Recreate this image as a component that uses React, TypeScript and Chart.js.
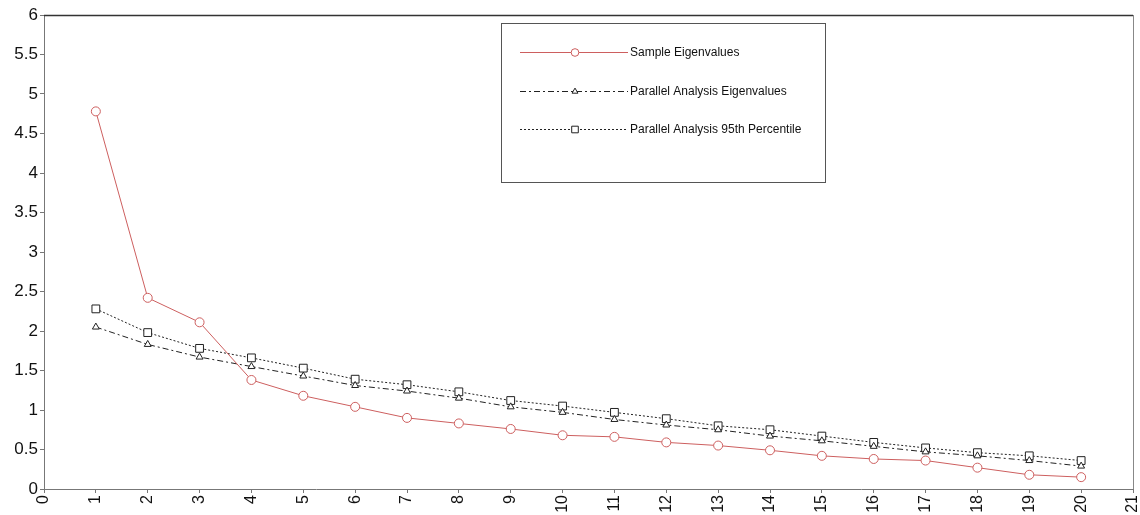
import React, { useEffect, useRef } from "react";
import { Chart, registerables } from "chart.js";

Chart.register(...registerables);

const components = [1, 2, 3, 4, 5, 6, 7, 8, 9, 10, 11, 12, 13, 14, 15, 16, 17, 18, 19, 20];
const sampleEigenvalues = [4.78, 2.42, 2.11, 1.38, 1.18, 1.04, 0.9, 0.83, 0.76, 0.68, 0.66, 0.59, 0.55, 0.49, 0.42, 0.38, 0.36, 0.27, 0.18, 0.15];
const parallelEigenvalues = [2.05, 1.83, 1.67, 1.55, 1.43, 1.31, 1.24, 1.15, 1.04, 0.97, 0.88, 0.81, 0.75, 0.67, 0.61, 0.54, 0.47, 0.42, 0.36, 0.29];
const parallel95th = [2.28, 1.98, 1.78, 1.66, 1.53, 1.39, 1.32, 1.23, 1.12, 1.05, 0.97, 0.89, 0.8, 0.75, 0.67, 0.59, 0.52, 0.46, 0.42, 0.36];
const seriesNames = ["Sample Eigenvalues", "Parallel Analysis Eigenvalues", "Parallel Analysis 95th Percentile"];

const RED = "rgb(205,95,95)";
const DARK = "#222";
const FONT = "'Liberation Sans', Arial, sans-serif";

function drawMarker(ctx: CanvasRenderingContext2D, style: string, r: number, x: number, y: number) {
  ctx.beginPath();
  if (style === "circle") {
    ctx.arc(x, y, r, 0, Math.PI * 2);
  } else if (style === "triangle") {
    const h = r * 1.5;
    ctx.moveTo(x, y - r);
    ctx.lineTo(x + r * 0.866, y + r * 0.5);
    ctx.lineTo(x - r * 0.866, y + r * 0.5);
    ctx.closePath();
    void h;
  } else {
    const s = r * Math.SQRT1_2;
    ctx.rect(x - s, y - s, 2 * s, 2 * s);
  }
  ctx.fill();
  ctx.stroke();
}

const legendPlugin = {
  id: "customLegend",
  afterDraw(chart: any) {
    const ctx = chart.ctx;
    const area = chart.chartArea;
    ctx.save();
    ctx.strokeStyle = "#333";
    ctx.lineWidth = 1.5;
    ctx.beginPath();
    ctx.moveTo(area.left, area.top + 0.5);
    ctx.lineTo(area.right, area.top + 0.5);
    ctx.stroke();
    ctx.strokeStyle = "#888";
    ctx.lineWidth = 1;
    ctx.beginPath();
    ctx.moveTo(area.right + 0.5, area.top);
    ctx.lineTo(area.right + 0.5, area.bottom);
    ctx.stroke();

    const bx = 501, by = 23, bw = 324, bh = 159;
    ctx.fillStyle = "#fff";
    ctx.fillRect(bx, by, bw, bh);
    ctx.strokeStyle = "#555";
    ctx.lineWidth = 1;
    ctx.strokeRect(bx + 0.5, by + 0.5, bw, bh);

    const rows = [52, 91, 129];
    const x0 = 520, x1 = 628, mx = 575;
    chart.data.datasets.forEach((ds: any, i: number) => {
      const y = rows[i];
      ctx.save();
      ctx.strokeStyle = ds.borderColor;
      ctx.lineWidth = 1;
      ctx.setLineDash(ds.borderDash || []);
      ctx.beginPath();
      ctx.moveTo(x0, y + 0.5);
      ctx.lineTo(x1, y + 0.5);
      ctx.stroke();
      ctx.setLineDash([]);
      ctx.fillStyle = "#fff";
      ctx.strokeStyle = ds.pointBorderColor;
      drawMarker(ctx, ds.pointStyle, ds.pointRadius * 0.85, mx, y + 0.5);
      ctx.restore();
      ctx.fillStyle = "#111";
      ctx.font = `12px ${FONT}`;
      ctx.textBaseline = "middle";
      ctx.textAlign = "left";
      ctx.fillText(ds.label, x1 + 2, y + 1);
    });
    ctx.restore();
  },
};

export default function App() {
  const ref = useRef<HTMLCanvasElement | null>(null);

  useEffect(() => {
    if (!ref.current) return;
    const chart = new Chart(ref.current, {
      type: "line",
      data: {
        datasets: [
          {
            label: seriesNames[0],
            data: components.map((c, i) => ({ x: c, y: sampleEigenvalues[i] })),
            borderColor: RED,
            borderWidth: 1,
            pointStyle: "circle",
            pointRadius: 4.5,
            pointBorderColor: RED,
            pointBackgroundColor: "#fff",
            pointBorderWidth: 1,
            tension: 0,
          },
          {
            label: seriesNames[1],
            data: components.map((c, i) => ({ x: c, y: parallelEigenvalues[i] })),
            borderColor: DARK,
            borderWidth: 1,
            borderDash: [6, 3, 2, 3],
            pointStyle: "triangle",
            pointRadius: 4,
            pointBorderColor: DARK,
            pointBackgroundColor: "#fff",
            pointBorderWidth: 1,
            tension: 0,
          },
          {
            label: seriesNames[2],
            data: components.map((c, i) => ({ x: c, y: parallel95th[i] })),
            borderColor: DARK,
            borderWidth: 1,
            borderDash: [2, 2],
            pointStyle: "rect",
            pointRadius: 5.5,
            pointBorderColor: DARK,
            pointBackgroundColor: "#fff",
            pointBorderWidth: 1,
            tension: 0,
          },
        ],
      },
      options: {
        animation: false,
        responsive: false,
        maintainAspectRatio: false,
        layout: { padding: { top: 15, right: 7, left: 0, bottom: 0 } },
        plugins: {
          legend: { display: false },
          tooltip: { enabled: false },
        },
        scales: {
          x: {
            type: "linear",
            min: 0,
            max: 21,
            afterFit: (s: any) => {
              s.height = 26;
              s.paddingLeft = 0;
              s.paddingRight = 0;
            },
            ticks: {
              stepSize: 1,
              autoSkip: false,
              maxRotation: 90,
              minRotation: 90,
              padding: 2,
              color: "#111",
              font: { family: FONT, size: 16 },
            },
            grid: {
              drawOnChartArea: false,
              drawTicks: true,
              tickLength: 4,
              color: "#777",
            },
            border: { display: true, color: "#777", width: 1 },
          },
          y: {
            type: "linear",
            min: 0,
            max: 6,
            afterFit: (s: any) => {
              s.width = 44;
              s.paddingTop = 0;
              s.paddingBottom = 0;
            },
            ticks: {
              stepSize: 0.5,
              padding: 2,
              color: "#111",
              font: { family: FONT, size: 17 },
              callback: (v: any) => String(Math.round(Number(v) * 10) / 10),
            },
            grid: {
              drawOnChartArea: false,
              drawTicks: true,
              tickLength: 4,
              color: "#777",
            },
            border: { display: true, color: "#777", width: 1 },
          },
        },
      },
      plugins: [legendPlugin],
    });
    return () => chart.destroy();
  }, []);

  return (
    <div style={{ position: "fixed", left: 0, top: 0, width: 1140, height: 515, background: "#fff" }}>
      <canvas ref={ref} width={1140} height={515} style={{ width: 1140, height: 515, display: "block" }} />
    </div>
  );
}
